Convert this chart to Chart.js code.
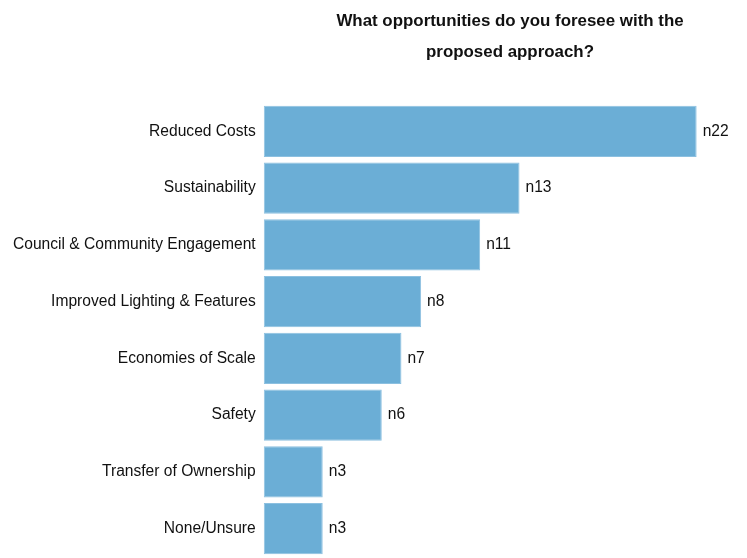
<!DOCTYPE html>
<html>
<head>
<meta charset="utf-8">
<title>Opportunities</title>
<script src="https://cdn.jsdelivr.net/npm/chart.js@4"></script>
<style>
    html, body { margin: 0; padding: 0; background: #fff; overflow: hidden; }
    canvas { display: block; }
</style>
</head>
<body>
<canvas id="chart" width="747" height="558"></canvas>
<script>
const titleLines = ["What opportunities do you foresee with the", "proposed approach?"];

const categories = [
    "Reduced Costs",
    "Sustainability",
    "Council & Community Engagement",
    "Improved Lighting & Features",
    "Economies of Scale",
    "Safety",
    "Transfer of Ownership",
    "None/Unsure"
];

const counts = [22, 13, 11, 8, 7, 6, 3, 3];

const FONT = "'Liberation Sans', Arial, sans-serif";

// Two-line bold heading, centred over the bars
const headingPlugin = {
    id: "heading",
    afterDraw(chart) {
        const ctx = chart.ctx;
        ctx.save();
        ctx.fillStyle = "#111";
        ctx.font = "bold 16.9px " + FONT;
        ctx.textAlign = "center";
        ctx.textBaseline = "alphabetic";
        titleLines.forEach((line, i) => {
            ctx.fillText(line, 510, 26 + i * 31);
        });
        ctx.restore();
    }
};

// "nXX" count to the right of each bar
const countLabels = {
    id: "countLabels",
    afterDatasetsDraw(chart) {
        const ctx = chart.ctx;
        const meta = chart.getDatasetMeta(0);
        ctx.save();
        ctx.fillStyle = "#111";
        ctx.font = "15.6px " + FONT;
        ctx.textAlign = "left";
        ctx.textBaseline = "middle";
        meta.data.forEach((bar, i) => {
            ctx.fillText("n" + counts[i], bar.x + 6, bar.y);
        });
        ctx.restore();
    }
};

new Chart(document.getElementById("chart"), {
    type: "bar",
    data: {
        labels: categories,
        datasets: [{
            data: counts,
            backgroundColor: "#6baed6",
            borderColor: "#8cc0e0",
            borderWidth: 1,
            borderSkipped: false,
            barPercentage: 0.9,
            categoryPercentage: 1
        }]
    },
    options: {
        indexAxis: "y",
        responsive: false,
        animation: false,
        layout: {
            padding: { top: 103, bottom: 1, left: 5, right: 11 }
        },
        plugins: {
            legend: { display: false },
            title: { display: false },
            tooltip: { enabled: false }
        },
        scales: {
            x: {
                display: false,
                min: 0,
                max: 24
            },
            y: {
                grid: { display: false, drawTicks: false },
                border: { display: false },
                ticks: {
                    color: "#111",
                    padding: 8,
                    font: { family: FONT, size: 15.6 }
                },
                // bars run right down to the bottom edge, no room kept for half a label
                afterFit(scale) {
                    scale.paddingTop = 0;
                    scale.paddingBottom = 0;
                }
            }
        }
    },
    plugins: [headingPlugin, countLabels]
});
</script>
</body>
</html>
